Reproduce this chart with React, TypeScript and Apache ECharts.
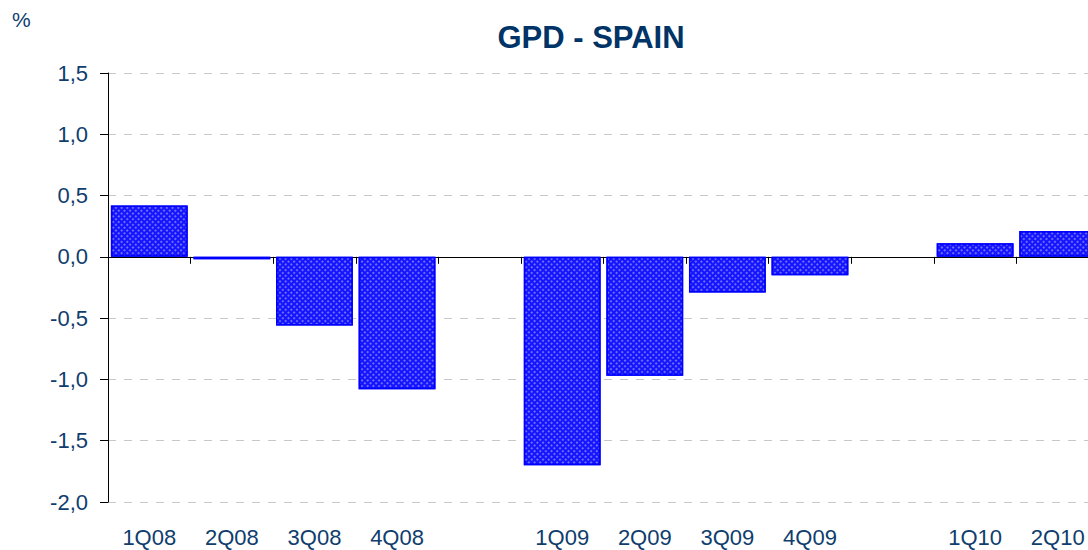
import React, { useEffect, useRef } from "react";
import * as echarts from "echarts";

const categories = ["1Q08", "2Q08", "3Q08", "4Q08", "", "1Q09", "2Q09", "3Q09", "4Q09", "", "1Q10", "2Q10"];
const gdpValues: (number | null)[] = [0.42, -0.02, -0.56, -1.08, null, -1.7, -0.97, -0.29, -0.15, null, 0.11, 0.21];
const yTicks = { min: -2, max: 1.5, interval: 0.5 };
const titleText = "GPD - SPAIN";
const unitText = "%";

const FONT = "'Liberation Sans', Arial, sans-serif";
const TEXT_COLOR = "#0f3d6e";

export default function App() {
  const ref = useRef<HTMLDivElement>(null);
  useEffect(() => {
    if (!ref.current) return;
    const chart = echarts.init(ref.current, undefined, { renderer: "svg" });
    chart.setOption({
      animation: false,
      backgroundColor: "#ffffff",
      grid: { left: 108, top: 73, width: 991, height: 429 },
      graphic: [
        {
          type: "text",
          x: 591,
          y: 37,
          style: {
            text: titleText,
            font: `bold 31px ${FONT}`,
            fill: "#003366",
            textAlign: "center",
            textVerticalAlign: "middle",
          },
        },
        {
          type: "text",
          x: 12,
          y: 19,
          style: {
            text: unitText,
            font: `21px ${FONT}`,
            fill: TEXT_COLOR,
            textAlign: "left",
            textVerticalAlign: "middle",
          },
        },
      ],
      xAxis: [
        {
          type: "category",
          data: categories,
          axisLine: { show: true, onZero: true, lineStyle: { color: "#000000", width: 1 } },
          axisTick: { show: true, alignWithLabel: false, length: 7, lineStyle: { color: "#000000" } },
          axisLabel: { show: false },
          splitLine: { show: false },
        },
        {
          type: "category",
          data: categories,
          position: "bottom",
          axisLine: { show: false, onZero: false },
          axisTick: { show: false },
          axisLabel: {
            show: true,
            margin: 24,
            color: TEXT_COLOR,
            fontFamily: FONT,
            fontSize: 22,
            interval: 0,
          },
          splitLine: { show: false },
        },
      ],
      yAxis: {
        type: "value",
        min: yTicks.min,
        max: yTicks.max,
        interval: yTicks.interval,
        axisLine: { show: true, lineStyle: { color: "#000000", width: 1 } },
        axisTick: { show: true, length: 8, lineStyle: { color: "#000000" } },
        axisLabel: {
          margin: 20,
          color: TEXT_COLOR,
          fontFamily: FONT,
          fontSize: 22,
          formatter: (v: number) => v.toFixed(1).replace(".", ","),
        },
        splitLine: { show: true, lineStyle: { color: "#c8c8c8", type: [8, 8], width: 1 } },
      },
      series: [
        {
          type: "bar",
          xAxisIndex: 0,
          data: gdpValues,
          barCategoryGap: "7%",
          itemStyle: {
            color: "#1414ff",
            borderColor: "#0000ff",
            borderWidth: 1.5,
            decal: {
              symbol: "rect",
              symbolSize: 0.9,
              color: "rgba(140,140,255,0.8)",
              dashArrayX: [2, 2],
              dashArrayY: [2, 2],
              rotation: Math.PI / 4,
            },
          },
        },
      ],
    });
    return () => chart.dispose();
  }, []);
  return (
    <div
      style={{ position: "fixed", left: 0, top: 0, width: 1088, height: 550, overflow: "hidden", background: "#fff" }}
    >
      <div ref={ref} style={{ width: 1110, height: 550 }} />
    </div>
  );
}
